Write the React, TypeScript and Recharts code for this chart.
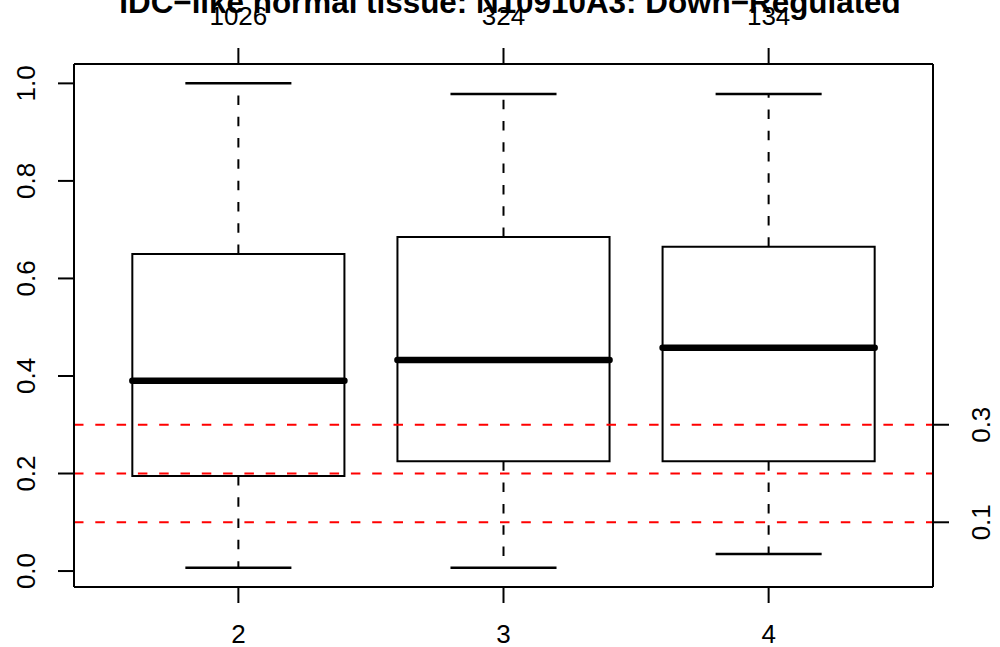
import React from 'react';
import { ComposedChart, XAxis, YAxis, Scatter, ReferenceArea, ReferenceLine } from 'recharts';

const FONT = '"Liberation Sans", Arial, Helvetica, sans-serif';

// boxplot statistics per group
const groups = ['2', '3', '4'];
const positions = [1, 2, 3];
const counts = ['1026', '324', '134'];
const lowWhisker = [0.007, 0.007, 0.035];
const lowerQuartile = [0.195, 0.225, 0.225];
const medians = [0.39, 0.433, 0.458];
const upperQuartile = [0.65, 0.685, 0.665];
const highWhisker = [1.0, 0.978, 0.978];

// cutoff lines
const cutoffs = [0.1, 0.2, 0.3];
const leftTicks = [0, 0.2, 0.4, 0.6, 0.8, 1.0];
const rightTicks = [0.1, 0.3];

const BOX_HALF = 0.4;
const STAPLE_HALF = 0.2;

// R-style 4% axis extension
const yLo = Math.min(...lowWhisker);
const yHi = Math.max(...highWhisker);
const yPad = (yHi - yLo) * 0.04;
const xPad = (positions.length) * 0.04;
const xDomain: [number, number] = [0.5 - xPad, positions.length + 0.5 + xPad];
const yDomain: [number, number] = [yLo - yPad, yHi + yPad];

const rows = positions.map((p, i) => ({ pos: p, median: medians[i] }));

const axisLine = { stroke: '#000', strokeWidth: 2 };
const tickLine = { stroke: '#000', strokeWidth: 2 };
const TICK = 16;
const textStyle = { fontFamily: FONT, fontSize: 26, fill: '#000' };

const BottomTick = (props: any) => {
  const { x, y, payload } = props;
  return (
    <text x={x} y={y + 40} textAnchor="middle" style={textStyle}>
      {groups[positions.indexOf(payload.value)]}
    </text>
  );
};

const TopTick = (props: any) => {
  const { x, y, payload } = props;
  return (
    <text x={x} y={y - 23} textAnchor="middle" style={textStyle}>
      {counts[positions.indexOf(payload.value)]}
    </text>
  );
};

const LeftTick = (props: any) => {
  const { x, y, payload } = props;
  const bx = x - 23;
  return (
    <text x={bx} y={y} transform={`rotate(-90, ${bx}, ${y})`} textAnchor="middle" style={textStyle}>
      {Number(payload.value).toFixed(1)}
    </text>
  );
};

const RightTick = (props: any) => {
  const { x, y, payload } = props;
  const bx = x + 41;
  return (
    <text x={bx} y={y} transform={`rotate(-90, ${bx}, ${y})`} textAnchor="middle" style={textStyle}>
      {Number(payload.value).toFixed(1)}
    </text>
  );
};

const ids = { xAxisId: 'bottom', yAxisId: 'left' };

export default function App() {
  return (
    <div style={{ position: 'absolute', left: 0, top: 0, width: 1000, height: 647, background: '#fff', overflow: 'hidden' }}>
      <ComposedChart width={1000} height={647} data={rows} margin={{ top: 0, right: 0, bottom: 0, left: 0 }}>
        <XAxis
          xAxisId="bottom"
          type="number"
          dataKey="pos"
          domain={xDomain}
          ticks={positions}
          allowDataOverflow
          height={60}
          tickSize={TICK}
          tickMargin={0}
          axisLine={axisLine}
          tickLine={tickLine}
          tick={<BottomTick />}
        />
        <XAxis
          xAxisId="top"
          orientation="top"
          type="number"
          dataKey="pos"
          domain={xDomain}
          ticks={positions}
          allowDataOverflow
          height={64}
          tickSize={TICK}
          tickMargin={0}
          axisLine={axisLine}
          tickLine={tickLine}
          tick={<TopTick />}
        />
        <YAxis
          yAxisId="left"
          type="number"
          domain={yDomain}
          ticks={leftTicks}
          allowDataOverflow
          width={74}
          tickSize={TICK}
          tickMargin={0}
          axisLine={axisLine}
          tickLine={tickLine}
          tick={<LeftTick />}
        />
        <YAxis
          yAxisId="right"
          orientation="right"
          type="number"
          domain={yDomain}
          ticks={rightTicks}
          allowDataOverflow
          width={67}
          tickSize={TICK}
          tickMargin={0}
          axisLine={axisLine}
          tickLine={tickLine}
          tick={<RightTick />}
        />

        {positions.map((p, i) => (
          <ReferenceArea
            key={`box-${i}`}
            {...ids}
            x1={p - BOX_HALF}
            x2={p + BOX_HALF}
            y1={lowerQuartile[i]}
            y2={upperQuartile[i]}
            fill="#fff"
            fillOpacity={1}
            stroke="#000"
            strokeWidth={2}
          />
        ))}

        {positions.map((p, i) => (
          <ReferenceLine
            key={`wu-${i}`}
            {...ids}
            segment={[{ x: p, y: upperQuartile[i] }, { x: p, y: highWhisker[i] }]}
            stroke="#000"
            strokeWidth={2}
            strokeDasharray="9.5 11.8"
          />
        ))}
        {positions.map((p, i) => (
          <ReferenceLine
            key={`wl-${i}`}
            {...ids}
            segment={[{ x: p, y: lowerQuartile[i] }, { x: p, y: lowWhisker[i] }]}
            stroke="#000"
            strokeWidth={2}
            strokeDasharray="9.5 11.8"
          />
        ))}
        {positions.map((p, i) => (
          <ReferenceLine
            key={`su-${i}`}
            {...ids}
            segment={[{ x: p - STAPLE_HALF, y: highWhisker[i] }, { x: p + STAPLE_HALF, y: highWhisker[i] }]}
            stroke="#000"
            strokeWidth={2.5}
          />
        ))}
        {positions.map((p, i) => (
          <ReferenceLine
            key={`sl-${i}`}
            {...ids}
            segment={[{ x: p - STAPLE_HALF, y: lowWhisker[i] }, { x: p + STAPLE_HALF, y: lowWhisker[i] }]}
            stroke="#000"
            strokeWidth={2.5}
          />
        ))}
        {positions.map((p, i) => (
          <ReferenceLine
            key={`med-${i}`}
            {...ids}
            segment={[{ x: p - BOX_HALF, y: medians[i] }, { x: p + BOX_HALF, y: medians[i] }]}
            stroke="#000"
            strokeWidth={6.5}
            strokeLinecap="round"
          />
        ))}

        {cutoffs.map((c) => (
          <ReferenceLine
            key={`cut-${c}`}
            {...ids}
            y={c}
            stroke="#ff0000"
            strokeWidth={2}
            strokeDasharray="9.5 11.8"
          />
        ))}

        <Scatter {...ids} dataKey="median" shape={() => <g />} isAnimationActive={false} />
      </ComposedChart>
      <svg width={1000} height={647} style={{ position: 'absolute', left: 0, top: 0, pointerEvents: 'none' }}>
        <text x={510} y={13} textAnchor="middle" style={{ fontFamily: FONT, fontSize: 31.4, fontWeight: 'bold', fill: '#000' }}>
          IDC−like normal tissue: N10910A3: Down−Regulated
        </text>
      </svg>
    </div>
  );
}
